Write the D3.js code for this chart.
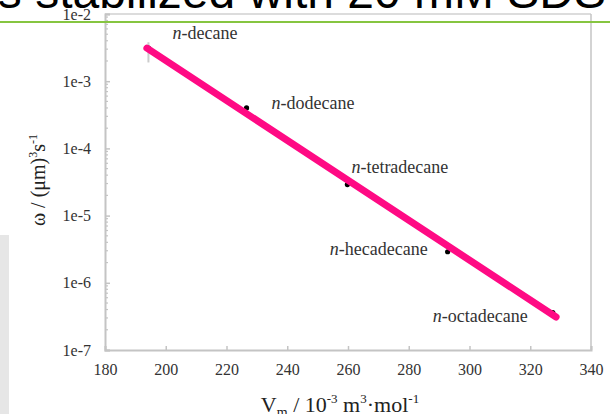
<!DOCTYPE html>
<html><head><meta charset="utf-8">
<script src="https://cdn.jsdelivr.net/npm/d3@7"></script>
<style>html,body{margin:0;padding:0;background:#fff;overflow:hidden}</style>
</head><body>
<svg id="c" width="610" height="414"></svg>
<script>
// ---- data ----
const categories = ["decane", "dodecane", "tetradecane", "hecadecane", "octadecane"];
const molarVolume = [194.3, 226.6, 259.8, 292.8, 327.4];
const omega = [3.1e-3, 4.0e-4, 2.9e-5, 2.9e-6, 3.6e-7];
const decaneErr = [1.9e-3, 3.8e-3];
const fitX = [193.8, 328.5];
const fitY = [3.1e-3, 3.1e-7];
const xTicks = [180, 200, 220, 240, 260, 280, 300, 320, 340];
const yTicks = [1e-2, 1e-3, 1e-4, 1e-5, 1e-6, 1e-7];
const yTickLabels = ["1e-2", "1e-3", "1e-4", "1e-5", "1e-6", "1e-7"];
const slideTitle = "emulsions stabilized with 20 mM SDS";

// ---- layout ----
const svg = d3.select("#c");
const L = 105, R = 591, T = 14, B = 350;
const x = d3.scaleLinear().domain([180, 340]).range([L, R]);
const y = d3.scaleLog().domain([1e-7, 1e-2]).range([B, T]);
const serif = "'Liberation Serif','Times New Roman',serif";
const axisCol = "#c4c4c4";

// slide title (cut off at the top)
svg.append("text").attr("x", 606).attr("y", 8).attr("text-anchor", "end")
  .attr("font-family", "'Liberation Sans',Arial,sans-serif").attr("font-size", 48)
  .attr("fill", "#000").text(slideTitle);

// grey side box
svg.append("rect").attr("x", 0).attr("y", 235).attr("width", 9).attr("height", 179).attr("fill", "#e6e6e6");

// frame
svg.append("line").attr("x1", L).attr("x2", R).attr("y1", T).attr("y2", T).attr("stroke", "#dcdcdc").attr("stroke-width", 2);
svg.append("line").attr("x1", R).attr("x2", R).attr("y1", T).attr("y2", B).attr("stroke", axisCol).attr("stroke-width", 1.5);

// axes
const yAxis = d3.axisLeft(y).tickValues(yTicks).tickSize(-5).tickFormat((d, i) => yTickLabels[i]).tickPadding(14);
const gy = svg.append("g").attr("transform", `translate(${L},0)`).call(yAxis);
const xAxis = d3.axisBottom(x).tickValues(xTicks).tickSize(-4).tickFormat(d3.format("d")).tickPadding(14);
const gx = svg.append("g").attr("transform", `translate(0,${B})`).call(xAxis);
[gx, gy].forEach(g => {
  g.select(".domain").attr("stroke", axisCol).attr("stroke-width", 2);
  g.selectAll(".tick line").attr("stroke", axisCol).attr("stroke-width", 1.5);
  g.selectAll(".tick text").attr("font-family", serif).attr("font-size", 16).attr("fill", "#333");
});
// minor log ticks
const minor = [];
yTicks.slice(1).forEach(d => { for (let k = 2; k <= 9; k++) minor.push(d * k); });
svg.append("g").selectAll("line").data(minor).join("line")
  .attr("x1", L).attr("x2", L + 3).attr("y1", d => y(d)).attr("y2", d => y(d))
  .attr("stroke", axisCol).attr("stroke-width", 1.2);

// green rule of the slide
svg.append("line").attr("x1", 0).attr("x2", 610).attr("y1", 22).attr("y2", 22).attr("stroke", "#86c540").attr("stroke-width", 2);

// axis titles
const xt = svg.append("text").attr("x", 340).attr("y", 412).attr("text-anchor", "middle")
  .attr("font-family", serif).attr("font-size", 22).attr("fill", "#222");
xt.append("tspan").text("V");
xt.append("tspan").attr("font-size", 14).attr("dy", 5).text("m");
xt.append("tspan").attr("dy", -5).text(" / 10");
xt.append("tspan").attr("font-size", 13).attr("dy", -9).text("-3");
xt.append("tspan").attr("dy", 9).text(" m");
xt.append("tspan").attr("font-size", 13).attr("dy", -9).text("3");
xt.append("tspan").attr("dy", 9).text("·mol");
xt.append("tspan").attr("font-size", 13).attr("dy", -9).text("-1");

const yt = svg.append("text").attr("transform", "translate(45,180) rotate(-90)").attr("text-anchor", "middle")
  .attr("font-family", serif).attr("font-size", 20).attr("fill", "#222");
yt.append("tspan").text("ω / (μm)");
yt.append("tspan").attr("font-size", 12).attr("dy", -8).text("3");
yt.append("tspan").attr("dy", 8).text("s");
yt.append("tspan").attr("font-size", 12).attr("dy", -8).text("-1");

// error bar on decane
svg.append("line").attr("x1", x(molarVolume[0])).attr("x2", x(molarVolume[0]))
  .attr("y1", y(decaneErr[0])).attr("y2", y(decaneErr[1])).attr("stroke", "#ccc").attr("stroke-width", 2);

// data points
svg.append("g").selectAll("circle").data(molarVolume).join("circle")
  .attr("cx", d => x(d)).attr("cy", (d, i) => y(omega[i])).attr("r", 2.6).attr("fill", "#000");

// fit line
svg.append("line").attr("x1", x(fitX[0])).attr("y1", y(fitY[0])).attr("x2", x(fitX[1])).attr("y2", y(fitY[1]))
  .attr("stroke", "#ff0a84").attr("stroke-width", 7).attr("stroke-linecap", "round");

// point labels
const labelLayout = [
  {dx: 24, dy: -9, anchor: "start"},
  {dx: 25, dy: 1, anchor: "start"},
  {dx: 4, dy: -12, anchor: "start"},
  {dx: -20, dy: 3, anchor: "end"},
  {dx: -25, dy: 9, anchor: "end"}
];
categories.forEach((c, i) => {
  const lt = svg.append("text")
    .attr("x", x(molarVolume[i]) + labelLayout[i].dx)
    .attr("y", y(omega[i]) + labelLayout[i].dy)
    .attr("text-anchor", labelLayout[i].anchor)
    .attr("font-family", serif).attr("font-size", 18).attr("fill", "#333");
  lt.append("tspan").attr("font-style", "italic").text("n");
  lt.append("tspan").text("-" + c);
});
</script>
</body></html>
